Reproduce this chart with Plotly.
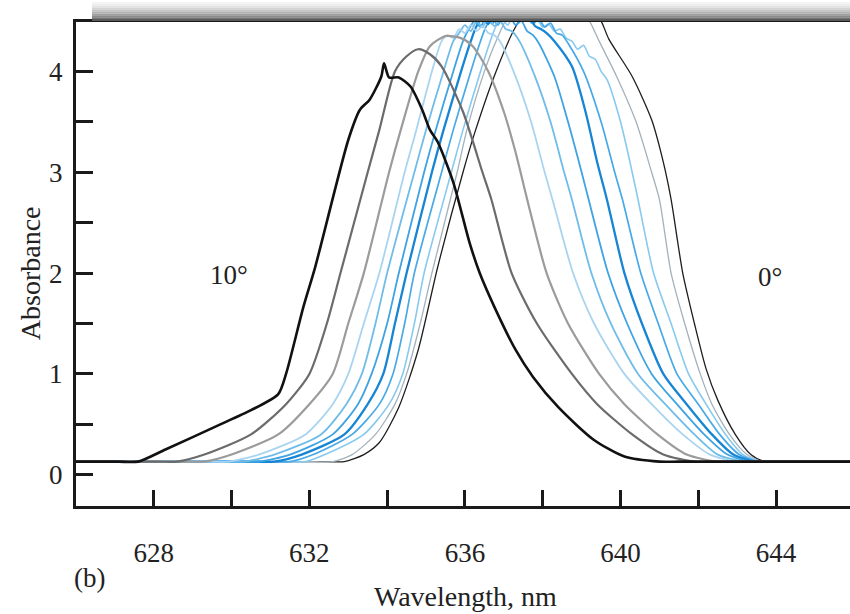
import plotly.graph_objects as go

# ---- data (wavelength nm, absorbance) ----
angles = ["10°", "9°", "8°", "7°", "6°", "5°", "4°", "3°", "2°", "1°", "0°"]
baseline = 0.13
x_left_end, x_right_end = 626.0, 646.0

x_10 = [627.6, 628.3, 629.6, 630.5, 631.2, 631.4, 631.85, 632.15, 633.0, 633.3, 633.55, 633.85, 633.92,
        634.05, 634.3, 634.6, 634.9, 635.1, 635.3, 635.7, 636.12, 636.38, 636.75, 637.3, 637.75, 638.4, 639.3,
        640.1, 641.0]
y_10 = [0.13, 0.25, 0.48, 0.64, 0.8, 1.0, 1.67, 2.06, 3.32, 3.62, 3.72, 3.95, 4.08,
        3.94, 3.94, 3.85, 3.62, 3.42, 3.3, 2.9, 2.3, 2.0, 1.67, 1.24, 0.97, 0.67, 0.35,
        0.18, 0.13]

x_9 = [628.6, 629.3, 630.5, 631.4, 632.0, 632.45, 632.8, 633.5, 633.8, 634.2, 634.5, 634.8, 635.1, 635.4,
       635.95, 636.45, 636.68, 637.2, 637.85, 638.75, 639.4, 640.3, 641.1, 641.9]
y_9 = [0.13, 0.2, 0.4, 0.7, 1.0, 1.5, 2.0, 3.0, 3.42, 4.0, 4.15, 4.22, 4.17, 4.05,
       3.6, 3.0, 2.73, 2.0, 1.5, 1.0, 0.7, 0.4, 0.2, 0.13]

x_8 = [629.3, 630.0, 631.2, 632.0, 632.6, 633.0, 633.4, 634.05, 634.35, 634.8, 635.1, 635.5, 635.9, 636.2,
       636.6, 637.0, 637.3, 637.6, 638.1, 638.65, 639.45, 640.1, 640.95, 641.7, 642.5]
y_8 = [0.13, 0.2, 0.4, 0.7, 1.0, 1.5, 2.0, 3.0, 3.42, 4.0, 4.25, 4.35, 4.33, 4.25,
       4.0, 3.6, 3.2, 2.73, 2.0, 1.5, 1.0, 0.7, 0.4, 0.2, 0.13]

x_7 = [629.9, 630.7, 631.9, 632.6, 633.0, 633.4, 633.8, 634.45, 634.75, 635.15, 635.4,
       635.55, 635.7, 635.85, 636.0, 636.15, 636.3, 636.45, 636.6, 636.75,
       636.9, 637.3, 637.7, 638.05, 638.25, 638.78, 639.32, 640.1, 640.8, 641.6, 642.3, 643.0]
y_7 = [0.13, 0.2, 0.4, 0.7, 1.0, 1.5, 2.0, 3.0, 3.42, 4.0, 4.3,
       4.36, 4.33, 4.42, 4.38, 4.46, 4.4, 4.45, 4.38, 4.36,
       4.3, 3.95, 3.5, 3.0, 2.73, 2.0, 1.5, 1.0, 0.7, 0.4, 0.2, 0.13]

x_6 = [630.3, 631.1, 632.3, 632.95, 633.35, 633.7, 634.0, 634.7, 635.0, 635.45, 635.7,
       635.85, 636.0, 636.15, 636.3, 636.45, 636.6, 636.75, 636.9, 637.05, 637.2,
       637.4, 637.8, 638.2, 638.55, 638.75, 639.25, 639.75, 640.45, 641.15, 641.9, 642.5, 643.2]
y_6 = [0.13, 0.2, 0.4, 0.7, 1.0, 1.5, 2.0, 3.0, 3.42, 4.0, 4.3,
       4.38, 4.46, 4.4, 4.5, 4.44, 4.53, 4.45, 4.5, 4.42, 4.4,
       4.3, 3.95, 3.5, 3.0, 2.73, 2.0, 1.5, 1.0, 0.7, 0.4, 0.2, 0.13]

x_5 = [630.7, 631.5, 632.6, 633.25, 633.6, 634.0, 634.3, 634.95, 635.25, 635.7, 635.95,
       636.1, 636.25, 636.4, 636.55, 636.7, 636.85, 637.0, 637.15, 637.3, 637.45, 637.6, 637.75,
       637.9, 638.3, 638.65, 639.0, 639.18, 639.68, 640.17, 640.8, 641.45, 642.15, 642.75, 643.35]
y_5 = [0.13, 0.2, 0.4, 0.7, 1.0, 1.5, 2.0, 3.0, 3.42, 4.0, 4.3,
       4.42, 4.5, 4.44, 4.55, 4.47, 4.56, 4.5, 4.55, 4.46, 4.5, 4.4, 4.36,
       4.28, 3.95, 3.5, 3.0, 2.73, 2.0, 1.5, 1.0, 0.7, 0.4, 0.2, 0.13]

x_4 = [631.1, 631.8, 632.9, 633.5, 633.9, 634.2, 634.5, 635.15, 635.45, 635.9, 636.15,
       636.3, 636.45, 636.6, 636.75, 636.9, 637.05, 637.2, 637.35, 637.5, 637.65, 637.8, 637.95, 638.1,
       638.3, 638.75, 639.1, 639.4, 639.65, 640.1, 640.55, 641.1, 641.7, 642.35, 642.9, 643.45]
y_4 = [0.13, 0.2, 0.4, 0.7, 1.0, 1.5, 2.0, 3.0, 3.42, 4.0, 4.3,
       4.45, 4.52, 4.47, 4.58, 4.52, 4.6, 4.53, 4.58, 4.5, 4.55, 4.45, 4.42, 4.38,
       4.3, 4.05, 3.6, 3.1, 2.73, 2.0, 1.5, 1.0, 0.7, 0.4, 0.2, 0.13]

x_3 = [631.5, 632.1, 633.1, 633.8, 634.15, 634.45, 634.7, 635.4, 635.7, 636.15, 636.4,
       636.55, 636.7, 636.85, 637.0, 637.15, 637.3, 637.45, 637.6, 637.75, 637.9, 638.05, 638.2, 638.35, 638.5,
       638.65, 639.05, 639.5, 639.85, 640.05, 640.52, 640.97, 641.45, 642.0, 642.55, 643.05, 643.55]
y_3 = [0.13, 0.2, 0.4, 0.7, 1.0, 1.5, 2.0, 3.0, 3.42, 4.0, 4.3,
       4.45, 4.52, 4.46, 4.56, 4.5, 4.58, 4.5, 4.55, 4.47, 4.52, 4.44, 4.48, 4.38, 4.36,
       4.28, 4.0, 3.5, 3.0, 2.73, 2.0, 1.5, 1.0, 0.7, 0.4, 0.2, 0.13]

x_2 = [631.9, 632.4, 633.4, 634.05, 634.4, 634.7, 634.95, 635.65, 635.95, 636.4, 636.65,
       636.8, 636.95, 637.1, 637.25, 637.4, 637.55, 637.7, 637.85, 638.0, 638.15, 638.3, 638.45,
       638.6, 638.75, 638.9, 639.05, 639.2, 639.35, 639.5, 639.65,
       640.0, 640.3, 640.45, 640.85, 641.3, 641.75, 642.2, 642.7, 643.15, 643.6]
y_2 = [0.13, 0.2, 0.4, 0.7, 1.0, 1.5, 2.0, 3.0, 3.42, 4.0, 4.3,
       4.45, 4.52, 4.46, 4.56, 4.5, 4.57, 4.48, 4.52, 4.44, 4.47, 4.4, 4.42,
       4.33, 4.3, 4.22, 4.26, 4.15, 4.12, 4.0, 3.92,
       3.5, 3.0, 2.73, 2.0, 1.5, 1.0, 0.7, 0.4, 0.2, 0.13]

x_1 = [632.6, 633.1, 633.7, 634.2, 634.5, 634.85, 635.15, 635.8, 636.05, 636.5, 636.8,
       637.2, 638.0, 638.8, 639.2, 639.45, 639.9, 640.4, 640.8, 641.0, 641.3, 641.65, 642.05, 642.35,
       642.8, 643.25, 643.65]
y_1 = [0.13, 0.2, 0.4, 0.7, 1.0, 1.5, 2.0, 3.0, 3.42, 4.0, 4.3,
       4.6, 4.75, 4.7, 4.5, 4.3, 3.95, 3.5, 3.0, 2.73, 2.0, 1.5, 1.0, 0.7,
       0.4, 0.2, 0.13]

x_0 = [632.9, 633.4, 633.8, 634.3, 634.8, 635.3, 635.95, 636.25, 636.8, 637.3, 637.8, 638.6, 639.2,
       639.5, 639.7, 640.3, 640.8, 641.1, 641.3, 641.6, 641.9, 642.2, 642.5, 642.95, 643.35, 643.7]
y_0 = [0.13, 0.2, 0.32, 0.67, 1.24, 2.06, 3.0, 3.39, 4.0, 4.44, 4.7, 4.85, 4.65,
       4.5, 4.32, 3.95, 3.52, 3.1, 2.73, 2.0, 1.5, 1.05, 0.74, 0.4, 0.2, 0.13]

series_x = [x_10, x_9, x_8, x_7, x_6, x_5, x_4, x_3, x_2, x_1, x_0]
series_y = [y_10, y_9, y_8, y_7, y_6, y_5, y_4, y_3, y_2, y_1, y_0]

colors = ["#111111", "#6b6b6b", "#9b9b9b", "#a9d4f0", "#6fbce9", "#3fa3e2",
          "#1785d3", "#48a9e6", "#88c9ef", "#a3b1ba", "#1e1e1e"]
widths = [2.6, 2.2, 2.2, 1.8, 1.8, 1.8, 2.3, 1.7, 1.6, 1.3, 1.3]

x_ticks = [628, 630, 632, 634, 636, 638, 640, 642, 644]
x_ticktext = ["628", "", "632", "", "636", "", "640", "", "644"]
y_ticks = [0, 0.5, 1, 1.5, 2, 2.5, 3, 3.5, 4]
y_ticktext = ["0", "", "1", "", "2", "", "3", "", "4"]


def with_baseline(xs, ys):
    """Continue a curve along the flat baseline to both plot edges."""
    xx = [x_left_end, xs[0] - 0.5] + list(xs) + [xs[-1] + 0.5, x_right_end]
    yy = [baseline, baseline] + list(ys) + [baseline, baseline]
    return xx, yy


fig = go.Figure()
order = list(range(len(angles)))[::-1]  # draw 0° first, 10° last (on top)
for i in order:
    xx, yy = with_baseline(series_x[i], series_y[i])
    fig.add_trace(go.Scatter(
        x=xx, y=yy, mode="lines", name=angles[i],
        line=dict(color=colors[i], width=widths[i], shape="spline", smoothing=0.7),
        hoverinfo="skip", showlegend=False))

serif = "Liberation Serif"
txt = "#222222"

fig.update_layout(
    width=850, height=614,
    margin=dict(l=76, r=0, t=22, b=108),
    paper_bgcolor="white", plot_bgcolor="white",
    font=dict(family=serif, size=27, color=txt),
    xaxis=dict(range=[626.0, 645.9], showgrid=False, zeroline=False,
               showline=True, linecolor="#1a1a1a", linewidth=3, mirror=True,
               ticks="inside", ticklen=16, tickwidth=2.5, tickcolor="#1a1a1a",
               tickvals=x_ticks, ticktext=x_ticktext, ticklabelstandoff=21,
               tickfont=dict(family=serif, size=27, color=txt)),
    yaxis=dict(range=[-0.31, 4.49], showgrid=False, zeroline=False,
               showline=True, linecolor="#1a1a1a", linewidth=3,
               ticks="inside", ticklen=17, tickwidth=2.5, tickcolor="#1a1a1a",
               tickvals=y_ticks, ticktext=y_ticktext, ticklabelstandoff=5,
               tickfont=dict(family=serif, size=27, color=txt)),
)

# top gradient bar (decorative frame)
bar_cols = ["#f5f5f5", "#eeeeee", "#e2e2e2", "#d4d4d4", "#c4c4c4", "#b2b2b2",
            "#a0a0a0", "#8c8c8c", "#767676", "#5a5a5a"]
px_top, px_bot = 2, 21
step = (px_bot - px_top) / len(bar_cols)
for k, c in enumerate(bar_cols):
    y0p = px_top + k * step
    y1p = y0p + step
    fig.add_shape(type="rect", xref="paper", yref="paper",
                  x0=(92 - 76) / 774, x1=1.0,
                  y0=(506 - y1p) / 484, y1=(506 - y0p) / 484,
                  line=dict(width=0), fillcolor=c, layer="above")

ann = dict(showarrow=False, xanchor="center", yanchor="middle")
fig.add_annotation(text="Wavelength, nm", xref="paper", yref="paper", x=0.5026, y=-0.188,
                   font=dict(family=serif, size=28, color=txt), **ann)
fig.add_annotation(text="Absorbance", xref="paper", yref="paper", x=-0.0594, y=0.481,
                   textangle=-90, font=dict(family=serif, size=28, color=txt), **ann)
fig.add_annotation(text="(b)", xref="paper", yref="paper", x=0.018, y=-0.149,
                   font=dict(family=serif, size=27, color=txt), **ann)
fig.add_annotation(text="10°", x=629.93, y=1.98,
                   font=dict(family=serif, size=27, color=txt), **ann)
fig.add_annotation(text="0°", x=643.84, y=1.96,
                   font=dict(family=serif, size=27, color=txt), **ann)

fig.write_html("out.html", config={"displayModeBar": False},
               post_script="document.body.style.margin='0';document.body.style.overflow='hidden';")
